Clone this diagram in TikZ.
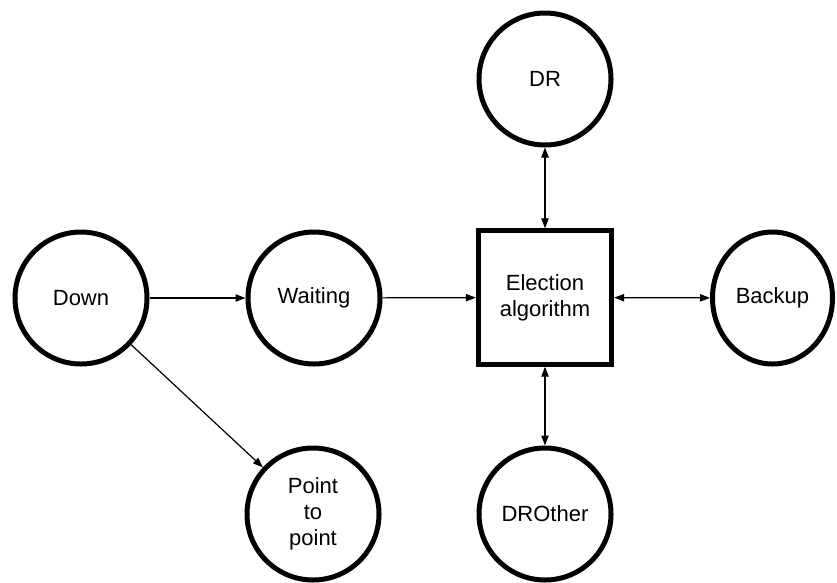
\documentclass[tikz,border=0pt]{standalone}
\usepackage{fontspec}
\setmainfont{Liberation Sans}
\usetikzlibrary{arrows.meta,shapes.geometric}
\begin{document}
\begin{tikzpicture}[x=0.75pt,y=-0.75pt,
  state/.style={circle,draw,line width=3.75pt,minimum size=99pt,inner sep=0pt,
    align=center,font=\fontsize{16.5pt}{19.5pt}\selectfont},
  oval/.style={ellipse,draw,line width=3.75pt,minimum width=90pt,minimum height=99pt,
    inner sep=0pt,align=center,font=\fontsize{16.5pt}{19.5pt}\selectfont},
  algo/.style={rectangle,draw,line width=3.75pt,minimum size=100pt,inner sep=0pt,
    align=center,font=\fontsize{16.5pt}{19.5pt}\selectfont},
  link/.style={line width=0.9pt,-{Triangle[length=7.5pt,width=5.5pt]}},
  dlink/.style={line width=0.9pt,{Triangle[length=7.5pt,width=5.5pt]}-{Triangle[length=7.5pt,width=5.5pt]}}]
  \useasboundingbox (0,0) rectangle (837,582);
  \fill[white] (0,0) rectangle (837,582);

  \node[state] (down) at (81,298) {Down};
  \node[state] (wait) at (314,298) {Waiting};
  \node[algo]  (elec) at (545,297.5) {Election\\algorithm};
  \node[state] (dr) at (545,79) {DR};
  \node[oval]  (backup) at (772.5,298) {Backup};
  \node[state] (ptp) at (313,514) {Point\\to\\point};
  \node[state] (drother) at (545,514) {DROther};

  \draw[link] (down) -- (wait);
  \draw[link] (wait) -- (elec);
  \draw[link] (down) -- (ptp);
  \draw[dlink] (elec) -- (dr);
  \draw[dlink] (elec) -- (backup);
  \draw[dlink] (elec) -- (drother);
\end{tikzpicture}
\end{document}
